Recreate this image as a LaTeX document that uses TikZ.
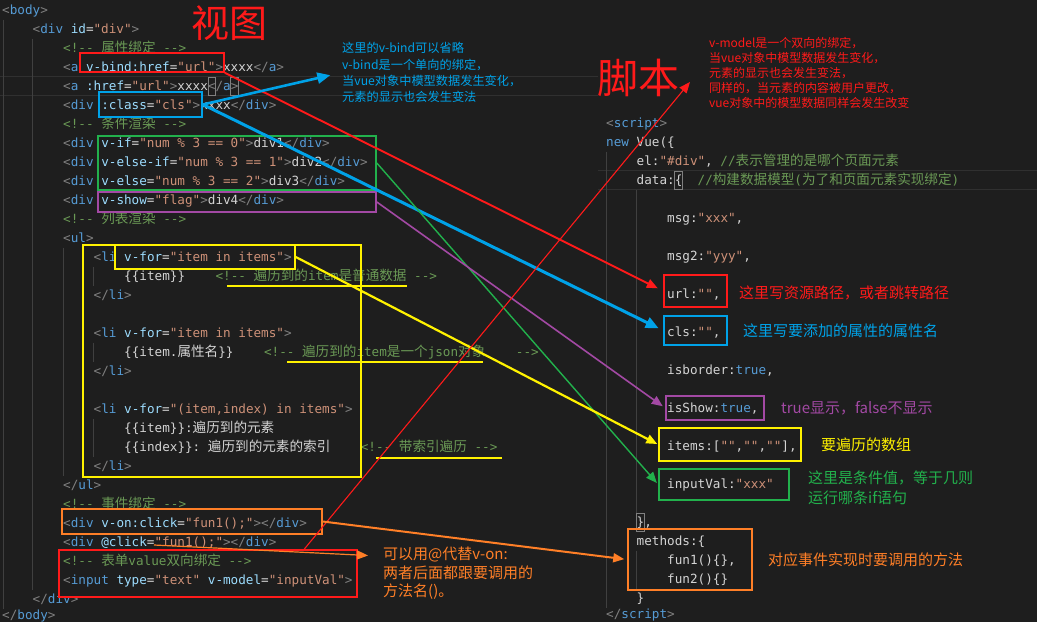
\documentclass[tikz,border=0pt]{standalone}
\usepackage{fontspec}
\setmonofont{DejaVu Sans Mono}
\newfontfamily\cjk{Noto Sans CJK SC}
\usetikzlibrary{arrows.meta,calc}
\tikzset{% change default arrow tips
    >={Triangle[length=11pt,width=9pt]}
}
\definecolor{bg}{HTML}{1E1E1E}
\definecolor{ctext}{HTML}{D4D4D4}
\definecolor{ctagc}{HTML}{569CD6}
\definecolor{cpunc}{HTML}{808080}
\definecolor{cattc}{HTML}{9CDCFE}
\definecolor{cstrc}{HTML}{CE9178}
\definecolor{ccomc}{HTML}{6A9955}
\definecolor{guide}{HTML}{404040}
\definecolor{rowline}{HTML}{303030}
\definecolor{pred}{HTML}{FF1A1A}
\definecolor{pblue}{HTML}{00A2E8}
\definecolor{pgreen}{HTML}{22B14C}
\definecolor{ppurple}{HTML}{A349A4}
\definecolor{pyellow}{HTML}{FFF200}
\definecolor{porange}{HTML}{FF7F27}
\newcommand{\ctag}[1]{\textcolor{ctagc}{#1}}
\newcommand{\cpun}[1]{\textcolor{cpunc}{#1}}
\newcommand{\catt}[1]{\textcolor{cattc}{#1}}
\newcommand{\cstr}[1]{\textcolor{cstrc}{#1}}
\newcommand{\ccom}[1]{\textcolor{ccomc}{#1}}
\newcommand{\zh}[1]{{\cjk\fontsize{13.6}{15}\selectfont #1}}
\newlength{\chw}\setlength{\chw}{7.62pt}
\newcommand{\skipc}[1]{\hspace*{#1\chw}}

\begin{document}
\begin{tikzpicture}[x=1pt, y=-1pt]
    \newcommand{\rowh}{19}   % height of an editor row
    \newcommand{\topl}{10}   % first row, html pane
    \newcommand{\topr}{123}  % first row, script pane
    \newcommand{\inda}{2}
    \newcommand{\indb}{32.5}
    \newcommand{\indc}{63}
    \newcommand{\indd}{93.5}
    \newcommand{\inde}{124}
    \newcommand{\jnda}{606}
    \newcommand{\jndb}{636.5}
    \newcommand{\jndc}{667}

    % styles of the code rows and of the marks
    \tikzset{
        code/.style={anchor=west, inner sep=0pt, text height=10.5pt, text depth=2.1pt,
            font=\fontsize{12.65}{15}\selectfont\ttfamily, text=ctext},
        markbox/.style={draw=#1, line width=1.6pt, inner sep=0pt},
        note/.style={anchor=west, inner sep=0pt, align=left, font=\cjk\fontsize{15}{15}\selectfont},
        title/.style={inner sep=0pt, text=pred}
    }

    % editor background
    \useasboundingbox (0,0) rectangle (1037,622);
    \fill[bg] (0,0) rectangle (1037,622);
    \draw[rowline] (0,76.5) -- (598,76.5) (0,95.5) -- (598,95.5);
    \draw[rowline] (598,170.5) -- (1037,170.5) (598,189.5) -- (1037,189.5);

    % indent guides
    \draw[guide, line width=0.6pt] (3,19.5) -- (3,608.5);
    \draw[guide, line width=0.6pt] (\indb,38.5) -- (\indb,589.5);
    \draw[guide, line width=0.6pt] (\indc,247.5) -- (\indc,475.5);
    \foreach \a/\b in {266.5/285.5, 342.5/361.5, 418.5/456.5}
        \draw[guide, line width=0.6pt] (\indd,\a) -- (\indd,\b);
    \draw[guide, line width=0.6pt] (\jnda,151.5) -- (\jnda,607.5);
    \draw[guide, line width=0.6pt] (\jndb,189.5) -- (\jndb,512.5);
    \draw[guide, line width=0.6pt] (\jndb,550.5) -- (\jndb,588.5);

    % bracket matches
    \draw[cpunc, line width=0.6pt] (207.8,77) rectangle (215.4,95);
    \draw[cpunc, line width=0.6pt] (230.6,77) rectangle (238.2,95);
    \draw[cpunc, line width=0.6pt] (674.6,171) rectangle (682.2,189);
    \draw[cpunc, line width=0.6pt] (636.5,513) rectangle (644.1,531);

    % html pane
    \node[code] (l0) at (\inda, \topl) {\cpun{<}\ctag{body}\cpun{>}};
    \node[code] (l1) at (\indb, \topl+\rowh) {\cpun{<}\ctag{div} \catt{id}=\cstr{"div"}\cpun{>}};
    \node[code] (l2) at (\indc, \topl+2*\rowh) {\ccom{<!-- \zh{属性绑定} -->}};
    \node[code] (l3) at (\indc, \topl+3*\rowh) {\cpun{<}\ctag{a} \catt{v-bind:href}=\cstr{"url"}\cpun{>}xxxx\cpun{</}\ctag{a}\cpun{>}};
    \node[code] (l4) at (\indc, \topl+4*\rowh) {\cpun{<}\ctag{a} \catt{:href}=\cstr{"url"}\cpun{>}xxxx\cpun{</}\ctag{a}\cpun{>}};
    \node[code] (l5) at (\indc, \topl+5*\rowh) {\cpun{<}\ctag{div} \catt{:class}=\cstr{"cls"}\cpun{>}xxxx\cpun{</}\ctag{div}\cpun{>}};
    \node[code] (l6) at (\indc, \topl+6*\rowh) {\ccom{<!-- \zh{条件渲染} -->}};
    \node[code] (l7) at (\indc, \topl+7*\rowh) {\cpun{<}\ctag{div} \catt{v-if}=\cstr{"num \% 3 == 0"}\cpun{>}div1\cpun{</}\ctag{div}\cpun{>}};
    \node[code] (l8) at (\indc, \topl+8*\rowh) {\cpun{<}\ctag{div} \catt{v-else-if}=\cstr{"num \% 3 == 1"}\cpun{>}div2\cpun{</}\ctag{div}\cpun{>}};
    \node[code] (l9) at (\indc, \topl+9*\rowh) {\cpun{<}\ctag{div} \catt{v-else}=\cstr{"num \% 3 == 2"}\cpun{>}div3\cpun{</}\ctag{div}\cpun{>}};
    \node[code] (l10) at (\indc, \topl+10*\rowh) {\cpun{<}\ctag{div} \catt{v-show}=\cstr{"flag"}\cpun{>}div4\cpun{</}\ctag{div}\cpun{>}};
    \node[code] (l11) at (\indc, \topl+11*\rowh) {\ccom{<!-- \zh{列表渲染} -->}};
    \node[code] (l12) at (\indc, \topl+12*\rowh) {\cpun{<}\ctag{ul}\cpun{>}};
    \node[code] (l13) at (\indd, \topl+13*\rowh) {\cpun{<}\ctag{li} \catt{v-for}=\cstr{"item in items"}\cpun{>}};
    \node[code] (l14) at (\inde, \topl+14*\rowh) {\{\{item\}\}\skipc{4}\ccom{<!-- \zh{遍历到的}item\zh{是普通数据} -->}};
    \node[code] (l15) at (\indd, \topl+15*\rowh) {\cpun{</}\ctag{li}\cpun{>}};
    \node[code] (l17) at (\indd, \topl+17*\rowh) {\cpun{<}\ctag{li} \catt{v-for}=\cstr{"item in items"}\cpun{>}};
    \node[code] (l18) at (\inde, \topl+18*\rowh) {\{\{item.\zh{属性名}\}\}\skipc{4}\ccom{<!-- \zh{遍历到的}item\zh{是一个}json\zh{对象}\skipc{4}-->}};
    \node[code] (l19) at (\indd, \topl+19*\rowh) {\cpun{</}\ctag{li}\cpun{>}};
    \node[code] (l21) at (\indd, \topl+21*\rowh) {\cpun{<}\ctag{li} \catt{v-for}=\cstr{"(item,index) in items"}\cpun{>}};
    \node[code] (l22) at (\inde, \topl+22*\rowh) {\{\{item\}\}:\zh{遍历到的元素}};
    \node[code] (l23) at (\inde, \topl+23*\rowh) {\{\{index\}\}: \zh{遍历到的元素的索引}\skipc{4}\ccom{<!-- \zh{带索引遍历} -->}};
    \node[code] (l24) at (\indd, \topl+24*\rowh) {\cpun{</}\ctag{li}\cpun{>}};
    \node[code] (l25) at (\indc, \topl+25*\rowh) {\cpun{</}\ctag{ul}\cpun{>}};
    \node[code] (l26) at (\indc, \topl+26*\rowh) {\ccom{<!-- \zh{事件绑定} -->}};
    \node[code] (l27) at (\indc, \topl+27*\rowh) {\cpun{<}\ctag{div} \catt{v-on:click}=\cstr{"fun1();"}\cpun{></}\ctag{div}\cpun{>}};
    \node[code] (l28) at (\indc, \topl+28*\rowh) {\cpun{<}\ctag{div} \catt{@click}=\cstr{"fun1();"}\cpun{></}\ctag{div}\cpun{>}};
    \node[code] (l29) at (\indc, \topl+29*\rowh) {\ccom{<!-- \zh{表单}value\zh{双向绑定} -->}};
    \node[code] (l30) at (\indc, \topl+30*\rowh) {\cpun{<}\ctag{input} \catt{type}=\cstr{"text"} \catt{v-model}=\cstr{"inputVal"}\cpun{>}};
    \node[code] (l31) at (\indb, \topl+31*\rowh) {\cpun{</}\ctag{div}\cpun{>}};
    \node[code] (l32) at (\inda, \topl+32*\rowh-3) {\cpun{</}\ctag{body}\cpun{>}};

    % script pane
    \node[code] (r0) at (\jnda, \topr) {\cpun{<}\ctag{script}\cpun{>}};
    \node[code] (r1) at (\jnda, \topr+\rowh) {\ctag{new} Vue(\{};
    \node[code] (r2) at (\jndb, \topr+2*\rowh) {el:\cstr{"\#div"}, \ccom{//\zh{表示管理的是哪个页面元素}}};
    \node[code] (r3) at (\jndb, \topr+3*\rowh) {data:\{\skipc{2}\ccom{//\zh{构建数据模型}(\zh{为了和页面元素实现绑定})}};
    \node[code] (r5) at (\jndc, \topr+5*\rowh) {msg:\cstr{"xxx"},};
    \node[code] (r7) at (\jndc, \topr+7*\rowh) {msg2:\cstr{"yyy"},};
    \node[code] (r9) at (\jndc, \topr+9*\rowh) {url:\cstr{""},};
    \node[code] (r11) at (\jndc, \topr+11*\rowh) {cls:\cstr{""},};
    \node[code] (r13) at (\jndc, \topr+13*\rowh) {isborder:\ctag{true},};
    \node[code] (r15) at (\jndc, \topr+15*\rowh) {isShow:\ctag{true},};
    \node[code] (r17) at (\jndc, \topr+17*\rowh) {items:[\cstr{""},\cstr{""},\cstr{""}],};
    \node[code] (r19) at (\jndc, \topr+19*\rowh) {inputVal:\cstr{"xxx"}};
    \node[code] (r21) at (\jndb, \topr+21*\rowh) {\},};
    \node[code] (r22) at (\jndb, \topr+22*\rowh) {methods:\{};
    \node[code] (r23) at (\jndc, \topr+23*\rowh) {fun1()\{\},};
    \node[code] (r24) at (\jndc, \topr+24*\rowh) {fun2()\{\}};
    \node[code] (r25) at (\jndb, \topr+25*\rowh) {\}};
    \node[code] (r26) at (\jnda, \topr+26*\rowh-3) {\cpun{</}\ctag{script}\cpun{>}};

    % marks on the html pane
    \node[markbox=pred, minimum width=144, minimum height=19] (bindbox) at (152,62.5) {};
    \node[markbox=pblue, minimum width=103, minimum height=25] (classbox) at (150.5,104.5) {};
    \node[markbox=pgreen, minimum width=278, minimum height=54] (ifbox) at (237,163) {};
    \node[markbox=ppurple, minimum width=278, minimum height=20] (showbox) at (237,202) {};
    \node[markbox=pyellow, minimum width=278, minimum height=232] (listbox) at (222,361) {};
    \node[markbox=pyellow, minimum width=180, minimum height=24] (forbox) at (205,257) {};
    \node[markbox=porange, minimum width=260, minimum height=25] (onbox) at (192,521.5) {};
    \node[markbox=pred, minimum width=298, minimum height=47] (modelbox) at (208,573.5) {};

    % underlined comments
    \draw[pyellow, line width=1.5pt] (227,286) -- (407,286);
    \draw[pyellow, line width=1.5pt] (287,362) -- (483,362);
    \draw[pyellow, line width=1.5pt] (376,458) -- (502,458);

    % marks on the script pane
    \node[markbox=pred, minimum width=63, minimum height=32] (urlbox) at (695.5,291) {};
    \node[markbox=pblue, minimum width=63, minimum height=29] (clsbox) at (695.5,330.5) {};
    \node[markbox=ppurple, minimum width=98, minimum height=24] (isshowbox) at (715,408) {};
    \node[markbox=pyellow, minimum width=142, minimum height=33] (itemsbox) at (730,444.5) {};
    \node[markbox=pgreen, minimum width=130, minimum height=31] (inputbox) at (724,484.5) {};
    \node[markbox=porange, minimum width=124, minimum height=61] (methodsbox) at (690,559.5) {};

    % titles and notes
    \node[title, font=\cjk\fontsize{38}{38}\selectfont] (viewtitle) at (229,23) {视图};
    \node[title, font=\cjk\fontsize{41}{41}\selectfont] (scripttitle) at (638,78) {脚本};
    \node[note, text=pblue, font=\cjk\fontsize{12.2}{16.3}\selectfont] (bindnote) at (342,72.5)
        {这里的v-bind可以省略\\v-bind是一个单向的绑定，\\当vue对象中模型数据发生变化，\\元素的显示也会发生变法};
    \node[note, text=pred, font=\cjk\fontsize{12}{15}\selectfont] (modelnote) at (709,73)
        {v-model是一个双向的绑定，\\当vue对象中模型数据发生变化，\\元素的显示也会发生变法，\\同样的，当元素的内容被用户更改，\\vue对象中的模型数据同样会发生改变};
    \node[note, text=pred] (urlnote) at (739,293) {这里写资源路径，或者跳转路径};
    \node[note, text=pblue] (clsnote) at (743,331) {这里写要添加的属性的属性名};
    \node[note, text=ppurple] (shownote) at (781,408) {true显示，false不显示};
    \node[note, text=pyellow] (itemsnote) at (821,445) {要遍历的数组};
    \node[note, text=pgreen, font=\cjk\fontsize{15}{20}\selectfont] (inputnote) at (808,488)
        {这里是条件值，等于几则\\运行哪条if语句};
    \node[note, text=porange] (methodsnote) at (768,560) {对应事件实现时要调用的方法};
    \node[note, text=porange, font=\cjk\fontsize{15}{18.5}\selectfont] (atnote) at (383,573.5)
        {可以用@代替v-on:\\两者后面都跟要调用的\\方法名()。};

    % free ends
    \coordinate (modelfoot) at ($(modelbox.north west)+(246,0)$);
    \coordinate (modeltip) at ($(modelnote.west)+(-19,9)$);
    \coordinate (clickfun) at ($(l28.west)+(91,3)$);
    \coordinate (attip) at ($(atnote.west)+(-15,-18)$);

    % arrows
    \draw[->, pred, line width=1.9pt, shorten >=6pt] (bindbox.south east) -- (urlbox.west);
    \draw[-{Triangle[length=13pt,width=11pt]}, pblue, line width=2.6pt, shorten >=12pt] (classbox.east) -- (bindnote.west);
    \draw[-{Triangle[length=13pt,width=11pt]}, pblue, line width=3pt, shorten >=5pt] (classbox.east) -- (clsbox.west);
    \draw[->, pgreen, line width=1.4pt, shorten >=2pt] (ifbox.east) -- (inputbox.west);
    \draw[->, ppurple, line width=1.6pt, shorten >=3pt] (showbox.east) -- (isshowbox.west);
    \draw[->, pyellow, line width=2.2pt, shorten >=1pt] (forbox.east) -- (itemsbox.west);
    \draw[->, pred, line width=1.1pt] (modelfoot) -- (modeltip);
    \draw[->, porange, line width=2pt, shorten >=3pt] (onbox.east) -- (methodsbox.west);
    \draw[->, porange, line width=1.2pt] (clickfun) -- (attip);
\end{tikzpicture}
\end{document}
